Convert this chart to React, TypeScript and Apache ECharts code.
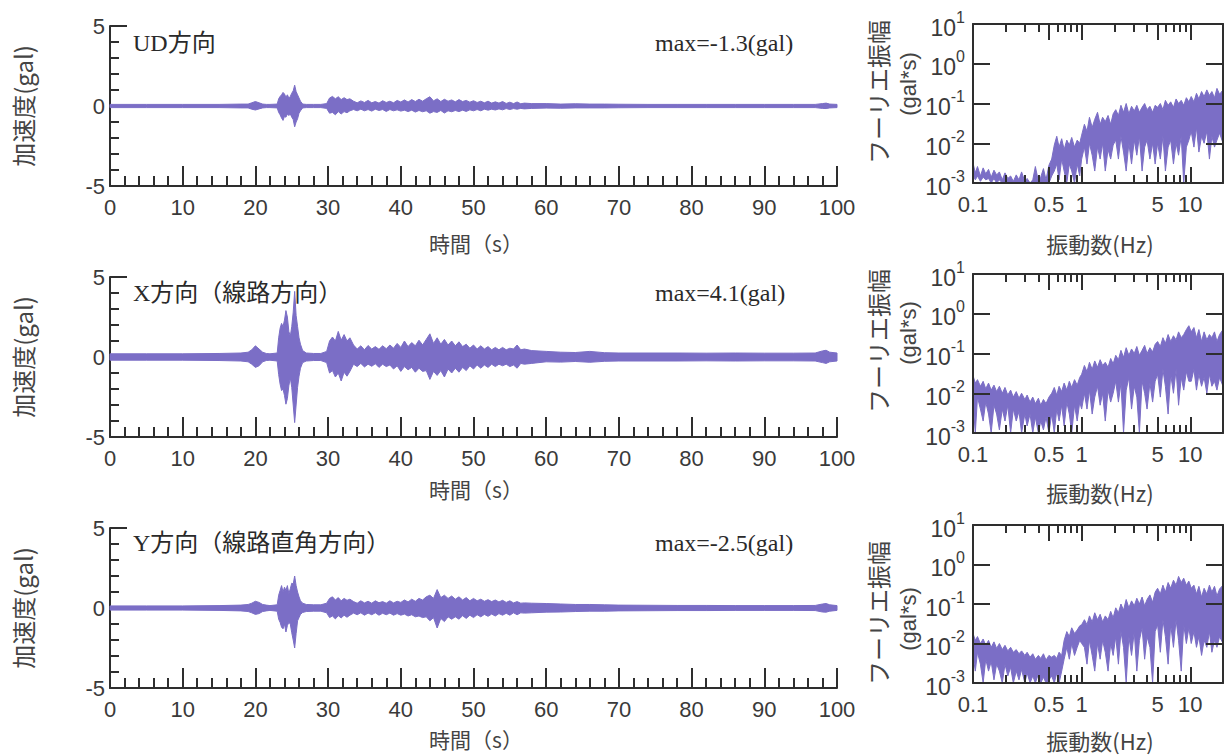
import React, { useEffect, useRef } from 'react';
import * as echarts from 'echarts';

// ---------- time-history data (envelope of acceleration, gal) ----------
const TIME = [
  0, 5, 10, 15, 18, 19, 19.5, 20, 20.5, 21,
  21.5, 22, 23, 23.2, 23.4, 23.6, 23.8, 24.0, 24.2, 24.4,
  24.6, 24.8, 25.0, 25.2, 25.4, 25.6, 25.8, 26.0, 26.2, 26.5,
  27, 28, 29, 29.8, 30.2, 30.6, 31.0, 31.4, 31.8, 32.2,
  32.6, 33.0,
  33.5, 34, 34.5, 35, 35.5, 36, 36.5, 37, 37.5, 38,
  38.5, 39, 39.5, 40, 40.5, 41, 41.5, 42, 42.5, 43,
  43.5, 44, 44.5, 45, 45.5, 46, 46.5, 47, 47.5, 48,
  48.5, 49, 49.5, 50, 50.5, 51, 51.5, 52, 52.5, 53,
  53.5, 54, 54.5, 55, 55.5, 56, 56.5, 57,
  58, 60, 62, 64, 66, 68, 70, 74, 78, 82,
  86, 90, 94, 97, 98, 98.5, 99, 100,
];

const UD_UP = [
  0.1, 0.1, 0.1, 0.1, 0.12, 0.12, 0.2, 0.28, 0.2, 0.12,
  0.1, 0.1, 0.12, 0.45, 0.6, 0.7, 0.85, 0.75, 0.55, 0.7,
  0.5, 0.6, 0.8, 0.95, 1.3, 0.9, 0.7, 0.5, 0.3, 0.12,
  0.1, 0.1, 0.1, 0.15, 0.5, 0.6, 0.45, 0.58, 0.4, 0.52,
  0.4, 0.45,
  0.3, 0.2, 0.32, 0.22, 0.35, 0.2, 0.28, 0.18, 0.33, 0.22,
  0.3, 0.2, 0.35, 0.25, 0.38, 0.25, 0.4, 0.28, 0.42, 0.3,
  0.45, 0.58, 0.32, 0.45, 0.28, 0.42, 0.3, 0.38, 0.26, 0.4,
  0.28, 0.35, 0.24, 0.33, 0.22, 0.3, 0.2, 0.3, 0.18, 0.26,
  0.18, 0.28, 0.16, 0.24, 0.15, 0.25, 0.14, 0.18,
  0.15, 0.15, 0.12, 0.14, 0.12, 0.12, 0.11, 0.1, 0.1, 0.1,
  0.1, 0.1, 0.1, 0.1, 0.15, 0.18, 0.12, 0.1,
];
const UD_LO = [
  -0.1, -0.1, -0.1, -0.1, -0.12, -0.12, -0.2, -0.25, -0.18, -0.12,
  -0.1, -0.1, -0.12, -0.4, -0.55, -0.75, -0.9, -0.65, -0.7, -0.5,
  -0.6, -0.5, -0.7, -0.85, -1.3, -1.0, -0.8, -0.45, -0.3, -0.12,
  -0.1, -0.1, -0.1, -0.15, -0.45, -0.4, -0.55, -0.35, -0.5, -0.35,
  -0.42, -0.3,
  -0.22, -0.3, -0.2, -0.3, -0.22, -0.32, -0.2, -0.28, -0.22, -0.34,
  -0.22, -0.3, -0.24, -0.32, -0.26, -0.35, -0.26, -0.38, -0.28, -0.36,
  -0.3, -0.45, -0.35, -0.4, -0.28, -0.44, -0.3, -0.36, -0.28, -0.35,
  -0.26, -0.34, -0.24, -0.3, -0.22, -0.3, -0.2, -0.26, -0.2, -0.25,
  -0.18, -0.24, -0.16, -0.22, -0.16, -0.2, -0.15, -0.18,
  -0.15, -0.13, -0.14, -0.12, -0.12, -0.12, -0.11, -0.1, -0.1, -0.1,
  -0.1, -0.1, -0.1, -0.1, -0.15, -0.16, -0.12, -0.1,
];

const X_UP = [
  0.2, 0.2, 0.2, 0.22, 0.25, 0.3, 0.45, 0.7, 0.5, 0.3,
  0.22, 0.2, 0.25, 1.2, 1.8, 2.1, 1.9, 2.3, 2.9, 2.5,
  1.6, 1.3, 1.9, 2.8, 4.1, 2.6, 1.9, 1.2, 0.8, 0.4,
  0.25, 0.22, 0.22, 0.35, 1.0, 1.25, 1.0, 1.6, 1.05, 1.4,
  1.0, 1.2,
  0.75, 0.5, 0.7, 0.45, 0.72, 0.5, 0.65, 0.48, 0.7, 0.52,
  0.75, 0.55, 0.85, 0.6, 1.0, 0.65, 0.9, 0.7, 1.05, 0.75,
  1.1, 1.45, 0.85, 1.2, 0.8, 1.1, 0.75, 1.0, 0.7, 0.95,
  0.65, 0.8, 0.55, 0.75, 0.5, 0.7, 0.5, 0.65, 0.45, 0.6,
  0.45, 0.6, 0.45, 0.55, 0.5, 0.75, 0.45, 0.5,
  0.4, 0.35, 0.3, 0.28, 0.35, 0.27, 0.25, 0.25, 0.25, 0.24,
  0.25, 0.24, 0.24, 0.25, 0.38, 0.42, 0.3, 0.25,
];
const X_LO = [
  -0.2, -0.2, -0.2, -0.22, -0.25, -0.3, -0.45, -0.65, -0.55, -0.3,
  -0.22, -0.2, -0.25, -1.1, -1.7, -2.1, -2.0, -2.4, -2.95, -2.6,
  -1.8, -1.3, -1.9, -3.0, -4.1, -3.0, -1.9, -1.2, -0.7, -0.35,
  -0.25, -0.22, -0.22, -0.35, -1.0, -0.85, -1.25, -1.0, -1.5, -0.95,
  -1.2, -0.9,
  -0.45, -0.6, -0.4, -0.62, -0.45, -0.58, -0.42, -0.65, -0.45, -0.6,
  -0.5, -0.75, -0.55, -0.9, -0.6, -0.8, -0.65, -0.95, -0.7, -0.9,
  -0.85, -1.4, -0.9, -1.15, -0.85, -1.25, -0.75, -1.0, -0.7, -0.95,
  -0.65, -0.85, -0.55, -0.75, -0.5, -0.7, -0.5, -0.65, -0.45, -0.6,
  -0.45, -0.55, -0.45, -0.6, -0.5, -0.7, -0.4, -0.45,
  -0.4, -0.3, -0.32, -0.28, -0.33, -0.27, -0.25, -0.25, -0.25, -0.24,
  -0.25, -0.24, -0.24, -0.25, -0.35, -0.4, -0.3, -0.25,
];

const Y_UP = [
  0.13, 0.13, 0.13, 0.15, 0.18, 0.22, 0.3, 0.42, 0.35, 0.22,
  0.18, 0.15, 0.2, 0.8, 1.1, 1.4, 1.0, 1.3, 1.1, 1.4,
  0.9, 1.2, 1.55, 1.5, 2.0, 1.4, 1.0, 0.7, 0.45, 0.3,
  0.22, 0.2, 0.2, 0.3, 0.6, 0.7, 0.5, 0.65, 0.45, 0.6,
  0.48, 0.55,
  0.4, 0.3, 0.45, 0.32, 0.42, 0.3, 0.45, 0.33, 0.4, 0.3,
  0.45, 0.32, 0.42, 0.35, 0.5, 0.38, 0.55, 0.42, 0.6, 0.5,
  0.7, 0.8, 0.6, 1.15, 0.65, 0.8, 0.6, 0.75, 0.55, 0.7,
  0.5, 0.65, 0.45, 0.6, 0.45, 0.55, 0.42, 0.52, 0.4, 0.5,
  0.38, 0.48, 0.35, 0.45, 0.32, 0.4, 0.3, 0.32,
  0.3, 0.28, 0.25, 0.22, 0.22, 0.2, 0.18, 0.17, 0.16, 0.16,
  0.15, 0.15, 0.15, 0.16, 0.25, 0.28, 0.2, 0.15,
];
const Y_LO = [
  -0.13, -0.13, -0.13, -0.15, -0.18, -0.22, -0.3, -0.4, -0.35, -0.22,
  -0.18, -0.15, -0.2, -0.7, -0.9, -1.2, -1.3, -1.0, -1.5, -1.1,
  -0.9, -1.0, -1.55, -2.0, -2.5, -1.6, -0.8, -0.6, -0.4, -0.28,
  -0.22, -0.2, -0.2, -0.3, -0.6, -0.5, -0.68, -0.48, -0.62, -0.45,
  -0.58, -0.45,
  -0.32, -0.42, -0.3, -0.45, -0.32, -0.42, -0.3, -0.45, -0.33, -0.42,
  -0.32, -0.45, -0.35, -0.45, -0.38, -0.5, -0.42, -0.55, -0.5, -0.6,
  -0.55, -0.8, -0.6, -1.25, -0.65, -0.85, -0.55, -0.7, -0.55, -0.7,
  -0.48, -0.65, -0.45, -0.6, -0.42, -0.55, -0.4, -0.52, -0.38, -0.5,
  -0.35, -0.45, -0.33, -0.45, -0.3, -0.42, -0.3, -0.32,
  -0.3, -0.26, -0.25, -0.22, -0.2, -0.2, -0.18, -0.17, -0.16, -0.16,
  -0.15, -0.15, -0.15, -0.16, -0.25, -0.26, -0.2, -0.15,
];

// ---------- Fourier spectra (gal*s) ----------
const FREQ = [
  0.1, 0.105, 0.11, 0.117, 0.124, 0.131, 0.139, 0.147, 0.156, 0.165,
  0.175, 0.186, 0.197, 0.209, 0.222, 0.235, 0.25, 0.265, 0.28, 0.3,
  0.315, 0.335, 0.355, 0.375, 0.4, 0.42, 0.445, 0.47, 0.5,
  0.53, 0.56, 0.59, 0.62, 0.655, 0.69, 0.73, 0.77, 0.81, 0.86, 0.91, 0.96, 1.0,
  1.06, 1.12, 1.18, 1.25, 1.32, 1.4, 1.48, 1.56, 1.65, 1.75, 1.85, 1.95,
  2.06, 2.18, 2.3, 2.43, 2.57, 2.72, 2.88, 3.05, 3.22, 3.4, 3.6, 3.8, 4.0, 4.25, 4.5, 4.75,
  5.0, 5.3, 5.6, 5.9, 6.25, 6.6, 7.0, 7.4, 7.8, 8.25, 8.7, 9.2, 9.7,
  10.2, 10.8, 11.4, 12.0, 12.7, 13.4, 14.2, 15.0, 15.8, 16.7, 17.6, 18.6, 20,
];

const SUD_UP = [
  0.0032, 0.0018, 0.0026, 0.0015, 0.0024, 0.0017, 0.0022, 0.0014, 0.0021, 0.0016,
  0.0019, 0.0012, 0.0018, 0.0013, 0.0015, 0.0011, 0.0016, 0.0012, 0.0019, 0.0011,
  0.0013, 0.001, 0.0012, 0.0026, 0.0011, 0.0014, 0.0023, 0.0012, 0.0028,
  0.004, 0.009, 0.015, 0.008, 0.013, 0.007, 0.012, 0.009, 0.014, 0.008, 0.012, 0.01, 0.016,
  0.03, 0.02, 0.045, 0.025, 0.04, 0.06, 0.03, 0.045, 0.035, 0.05, 0.03, 0.055,
  0.07, 0.05, 0.09, 0.06, 0.1, 0.055, 0.085, 0.065, 0.09, 0.06, 0.08, 0.1, 0.07, 0.085, 0.06, 0.09,
  0.08, 0.1, 0.07, 0.12, 0.09, 0.11, 0.08, 0.13, 0.1, 0.12, 0.09, 0.14, 0.11,
  0.15, 0.11, 0.18, 0.13, 0.2, 0.15, 0.22, 0.16, 0.2, 0.14, 0.24, 0.17, 0.22,
];
const SUD_LO = [
  0.0016, 0.0012, 0.0015, 0.0011, 0.0014, 0.0012, 0.0013, 0.001, 0.0013, 0.001,
  0.0012, 0.001, 0.001, 0.001, 0.001, 0.001, 0.001, 0.001, 0.001, 0.001,
  0.001, 0.001, 0.001, 0.001, 0.001, 0.001, 0.001, 0.001, 0.001,
  0.0015, 0.002, 0.003, 0.0012, 0.004, 0.002, 0.001, 0.003, 0.002, 0.001, 0.003, 0.0015, 0.004,
  0.008, 0.003, 0.01, 0.005, 0.002, 0.008, 0.004, 0.01, 0.002, 0.007, 0.004, 0.009,
  0.012, 0.004, 0.015, 0.006, 0.002, 0.01, 0.003, 0.012, 0.005, 0.015, 0.002, 0.008, 0.012, 0.004, 0.01, 0.003,
  0.01, 0.004, 0.015, 0.002, 0.008, 0.012, 0.003, 0.01, 0.005, 0.015, 0.001, 0.008, 0.012,
  0.02, 0.008, 0.025, 0.006, 0.015, 0.01, 0.02, 0.004, 0.015, 0.008, 0.012, 0.018, 0.01,
];

const SX_UP = [
  0.028, 0.018, 0.022, 0.015, 0.02, 0.013, 0.018, 0.012, 0.016, 0.011,
  0.015, 0.01, 0.014, 0.009, 0.012, 0.008, 0.011, 0.0075, 0.01, 0.007,
  0.009, 0.006, 0.008, 0.0055, 0.0075, 0.005, 0.007, 0.0055, 0.008,
  0.01, 0.014, 0.009, 0.015, 0.011, 0.018, 0.012, 0.02, 0.014, 0.022, 0.016, 0.025, 0.03,
  0.05, 0.035, 0.06, 0.04, 0.065, 0.045, 0.07, 0.05, 0.06, 0.045, 0.075, 0.055,
  0.09, 0.07, 0.12, 0.08, 0.14, 0.09, 0.13, 0.1, 0.15, 0.09, 0.12, 0.16, 0.1, 0.14, 0.11, 0.17,
  0.2, 0.15, 0.25, 0.18, 0.3, 0.2, 0.28, 0.22, 0.35, 0.25, 0.3, 0.4, 0.5,
  0.35, 0.45, 0.25, 0.4, 0.2, 0.35, 0.22, 0.3, 0.25, 0.35, 0.2, 0.3, 0.4,
];
const SX_LO = [
  0.006, 0.001, 0.008, 0.004, 0.002, 0.006, 0.003, 0.001, 0.005, 0.003,
  0.0012, 0.004, 0.002, 0.005, 0.001, 0.004, 0.002, 0.0035, 0.001, 0.003,
  0.0015, 0.003, 0.001, 0.0025, 0.001, 0.002, 0.0012, 0.0025, 0.001,
  0.003, 0.001, 0.004, 0.002, 0.005, 0.0015, 0.006, 0.003, 0.001, 0.005, 0.002, 0.006, 0.004,
  0.01, 0.004, 0.012, 0.003, 0.008, 0.015, 0.005, 0.01, 0.002, 0.012, 0.006, 0.01,
  0.02, 0.006, 0.018, 0.001, 0.012, 0.025, 0.004, 0.015, 0.008, 0.001, 0.02, 0.01, 0.004, 0.018, 0.006, 0.02,
  0.03, 0.008, 0.04, 0.015, 0.003, 0.03, 0.01, 0.04, 0.005, 0.025, 0.012, 0.035, 0.02,
  0.02, 0.04, 0.012, 0.03, 0.015, 0.025, 0.01, 0.03, 0.015, 0.02, 0.012, 0.025, 0.015,
];

const SY_UP = [
  0.018, 0.012, 0.015, 0.01, 0.013, 0.009, 0.012, 0.008, 0.011, 0.0075,
  0.01, 0.007, 0.009, 0.0065, 0.008, 0.006, 0.007, 0.0055, 0.0065, 0.005,
  0.006, 0.0045, 0.0055, 0.004, 0.005, 0.0042, 0.0055, 0.0038, 0.005,
  0.0045, 0.005, 0.0042, 0.006, 0.005, 0.012, 0.02, 0.015, 0.025, 0.018, 0.022, 0.028, 0.03,
  0.04, 0.03, 0.05, 0.035, 0.06, 0.04, 0.055, 0.035, 0.05, 0.04, 0.065, 0.045,
  0.08, 0.06, 0.1, 0.07, 0.13, 0.08, 0.12, 0.09, 0.14, 0.1, 0.15, 0.09, 0.13, 0.17, 0.11, 0.2,
  0.25, 0.18, 0.3, 0.2, 0.35, 0.25, 0.4, 0.3, 0.5, 0.35, 0.45, 0.3, 0.38,
  0.25, 0.3, 0.18, 0.28, 0.15, 0.25, 0.18, 0.3, 0.2, 0.28, 0.16, 0.24, 0.3,
];
const SY_LO = [
  0.005, 0.002, 0.006, 0.003, 0.001, 0.004, 0.002, 0.0035, 0.0012, 0.003,
  0.002, 0.001, 0.003, 0.0015, 0.0025, 0.001, 0.002, 0.0012, 0.0022, 0.001,
  0.0018, 0.001, 0.0015, 0.001, 0.0017, 0.001, 0.0014, 0.001, 0.0012,
  0.0015, 0.001, 0.0018, 0.001, 0.002, 0.004, 0.008, 0.004, 0.01, 0.005, 0.008, 0.012, 0.01,
  0.008, 0.003, 0.012, 0.005, 0.002, 0.01, 0.004, 0.012, 0.006, 0.002, 0.01, 0.005,
  0.015, 0.003, 0.02, 0.008, 0.001, 0.015, 0.005, 0.02, 0.002, 0.012, 0.025, 0.004, 0.015, 0.008, 0.001, 0.02,
  0.03, 0.006, 0.04, 0.015, 0.003, 0.03, 0.008, 0.04, 0.012, 0.002, 0.03, 0.01, 0.025,
  0.01, 0.02, 0.008, 0.015, 0.005, 0.012, 0.008, 0.02, 0.006, 0.012, 0.008, 0.015, 0.01,
];

// ---------- texts / ticks ----------
const TITLES = ['UD方向', 'X方向（線路方向）', 'Y方向（線路直角方向）'];
const MAX_TEXTS = ['max=-1.3(gal)', 'max=4.1(gal)', 'max=-2.5(gal)'];
const F_LABELS = [0.1, 0.5, 1, 5, 10];
const F_MAJOR_TICKS = [0.5, 1, 5, 10];
const F_MINOR_TICKS = [0.2, 0.3, 0.4, 0.6, 0.7, 0.8, 0.9, 2, 3, 4, 6, 7, 8, 9];

const WAVES = [
  { up: UD_UP, lo: UD_LO },
  { up: X_UP, lo: X_LO },
  { up: Y_UP, lo: Y_LO },
];
const SPECS = [
  { up: SUD_UP, lo: SUD_LO },
  { up: SX_UP, lo: SX_LO },
  { up: SY_UP, lo: SY_LO },
];

const COLOR = '#7b6ec6';
const AXIS = '#2e2e2e';
const LABEL = '#3a3a3a';
const SANS = "'Liberation Sans', Arial, 'Noto Sans CJK JP', sans-serif";
const CJK = "'Noto Sans CJK JP', 'Liberation Sans', sans-serif";
const SERIF = "'Liberation Serif', 'Times New Roman', 'Noto Sans CJK JP', serif";

// layout
const T_TOP = [26, 277, 528];
const T_LEFT = 110;
const T_W = 727;
const T_H = 160;
const S_TOP = [24, 274, 525];
const S_H = [159, 159, 158];
const S_LEFT = 973;
const S_W = 250;

function band(xs: number[], up: number[], lo: number[], xAxisIndex: number, yAxisIndex: number) {
  const data = xs.map((x, i) => [x, up[i], lo[i]]);
  return {
    type: 'custom',
    xAxisIndex,
    yAxisIndex,
    z: 2,
    silent: true,
    data,
    encode: { x: 0, y: [1, 2] },
    renderItem: (params: any, api: any) => {
      if (params.dataIndex !== 0) return null;
      const pts: number[][] = [];
      for (let i = 0; i < data.length; i++) pts.push(api.coord([data[i][0], data[i][1]]));
      for (let i = data.length - 1; i >= 0; i--) pts.push(api.coord([data[i][0], data[i][2]]));
      return {
        type: 'polygon',
        shape: { points: pts },
        style: { fill: COLOR, stroke: COLOR, lineWidth: 1 },
      };
    },
  };
}

export default function App() {
  const ref = useRef<HTMLDivElement>(null);
  useEffect(() => {
    document.body.style.margin = '0';
    const chart = echarts.init(ref.current!, null, { renderer: 'svg' });

    const grid: any[] = [];
    const xAxis: any[] = [];
    const yAxis: any[] = [];
    const series: any[] = [];
    const graphic: any[] = [];

    const lineStyle = { color: AXIS, width: 2 };
    const tickStyle = { color: AXIS, width: 2 };

    for (let r = 0; r < 3; r++) {
      // ---- time history grid ----
      const gT = grid.length;
      grid.push({ left: T_LEFT, top: T_TOP[r], width: T_W, height: T_H, containLabel: false, outerBoundsMode: 'none' });
      const xT = xAxis.length;
      xAxis.push({
        type: 'value', gridIndex: gT, min: 0, max: 100, interval: 10, position: 'bottom',
        axisLine: { show: true, onZero: false, lineStyle },
        axisTick: { show: true, inside: true, length: 20, lineStyle: tickStyle },
        minorTick: { show: true, splitNumber: 5, length: 10, lineStyle: tickStyle },
        axisLabel: { show: true, fontSize: 22, fontFamily: SANS, color: LABEL, margin: 10 },
        splitLine: { show: false }, minorSplitLine: { show: false },
      });
      const yT = yAxis.length;
      yAxis.push({
        type: 'value', gridIndex: gT, min: -5, max: 5, interval: 5, position: 'left',
        axisLine: { show: true, onZero: false, lineStyle },
        axisTick: { show: true, inside: true, length: 17, lineStyle: tickStyle },
        minorTick: { show: true, splitNumber: 5, length: 9, lineStyle: tickStyle },
        axisLabel: { show: true, fontSize: 22, fontFamily: SANS, color: LABEL, margin: 5 },
        splitLine: { show: false }, minorSplitLine: { show: false },
      });
      series.push(band(TIME, WAVES[r].up, WAVES[r].lo, xT, yT));

      // ---- spectrum grid (major ticks + labels) ----
      const gS = grid.length;
      grid.push({ left: S_LEFT, top: S_TOP[r], width: S_W, height: S_H[r], containLabel: false, outerBoundsMode: 'none' });
      const xS = xAxis.length;
      xAxis.push({
        type: 'log', logBase: 10, gridIndex: gS, min: 0.1, max: 20, position: 'bottom', z: 5,
        axisLine: { show: true, onZero: false, lineStyle },
        axisTick: { show: true, inside: true, length: 16, lineStyle: tickStyle, customValues: F_MAJOR_TICKS },
        axisLabel: {
          show: true, fontSize: 22, fontFamily: SANS, color: LABEL, margin: 10,
          customValues: F_LABELS, formatter: (v: number) => String(v),
        },
        splitLine: { show: false },
      });
      xAxis.push({
        type: 'log', logBase: 10, gridIndex: gS, min: 0.1, max: 20, position: 'top', z: 5,
        axisLine: { show: true, onZero: false, lineStyle },
        axisTick: { show: true, inside: true, length: 16, lineStyle: tickStyle, customValues: F_MAJOR_TICKS },
        axisLabel: { show: false },
        splitLine: { show: false },
      });
      const yS = yAxis.length;
      yAxis.push({
        type: 'log', logBase: 10, gridIndex: gS, min: 0.001, max: 10, position: 'left', z: 5,
        axisLine: { show: true, onZero: false, lineStyle },
        axisTick: { show: true, inside: true, length: 17, lineStyle: tickStyle },
        axisLabel: {
          show: true, margin: 8,
          formatter: (v: number) => `{b|10}{s|${Math.round(Math.log10(v))}}`,
          rich: {
            b: { fontSize: 23, fontFamily: SANS, color: LABEL, verticalAlign: 'bottom', lineHeight: 30 },
            s: { fontSize: 16, fontFamily: SANS, color: LABEL, verticalAlign: 'top', lineHeight: 15 },
          },
        },
        splitLine: { show: false },
      });
      yAxis.push({
        type: 'log', logBase: 10, gridIndex: gS, min: 0.001, max: 10, position: 'right', z: 5,
        axisLine: { show: true, onZero: false, lineStyle },
        axisTick: { show: true, inside: true, length: 17, lineStyle: tickStyle },
        axisLabel: { show: false },
        splitLine: { show: false },
      });
      series.push(band(FREQ, SPECS[r].up, SPECS[r].lo, xS, yS));

      // ---- spectrum grid (minor ticks only) ----
      const gM = grid.length;
      grid.push({ left: S_LEFT, top: S_TOP[r], width: S_W, height: S_H[r], containLabel: false, outerBoundsMode: 'none' });
      xAxis.push({
        type: 'log', logBase: 10, gridIndex: gM, min: 0.1, max: 20, position: 'bottom', z: 5,
        axisLine: { show: false, onZero: false },
        axisTick: { show: true, inside: true, length: 8, lineStyle: tickStyle, customValues: F_MINOR_TICKS },
        axisLabel: { show: false },
        splitLine: { show: false },
      });
      xAxis.push({
        type: 'log', logBase: 10, gridIndex: gM, min: 0.1, max: 20, position: 'top', z: 5,
        axisLine: { show: false, onZero: false },
        axisTick: { show: true, inside: true, length: 8, lineStyle: tickStyle, customValues: F_MINOR_TICKS },
        axisLabel: { show: false },
        splitLine: { show: false },
      });
      yAxis.push({
        type: 'log', logBase: 10, gridIndex: gM, min: 0.001, max: 10, show: false,
      });

      // ---- texts ----
      const yMid = [106, 357, 608][r];
      graphic.push({
        type: 'text', x: 22, y: yMid, rotation: Math.PI / 2,
        style: { text: '加速度(gal)', fill: '#444', font: `24px ${CJK}`, textAlign: 'center', textVerticalAlign: 'middle' },
      });
      const tY = [43, 293, 543][r];
      graphic.push({
        type: 'text', x: 133, y: tY,
        style: { text: TITLES[r], fill: '#2a2a2a', font: `24px ${SERIF}`, textAlign: 'left', textVerticalAlign: 'middle' },
      });
      graphic.push({
        type: 'text', x: 655, y: tY,
        style: { text: MAX_TEXTS[r], fill: '#2a2a2a', font: `24px ${SERIF}`, textAlign: 'left', textVerticalAlign: 'middle' },
      });
      graphic.push({
        type: 'text', x: 476, y: [243, 489, 739][r],
        style: { text: '時間（s）', fill: '#444', font: `21px ${CJK}`, textAlign: 'center', textVerticalAlign: 'middle' },
      });
      graphic.push({
        type: 'text', x: 877, y: [92, 341, 613][r], rotation: Math.PI / 2,
        style: { text: 'フーリエ振幅', fill: '#444', font: `24px ${CJK}`, textAlign: 'center', textVerticalAlign: 'middle' },
      });
      graphic.push({
        type: 'text', x: 908, y: [84, 333, 619][r], rotation: Math.PI / 2,
        style: { text: '(gal*s)', fill: '#444', font: `22px ${SANS}`, textAlign: 'center', textVerticalAlign: 'middle' },
      });
      graphic.push({
        type: 'text', x: 1100, y: [243, 492, 740][r],
        style: { text: '振動数(Hz)', fill: '#444', font: `22px ${CJK}`, textAlign: 'center', textVerticalAlign: 'middle' },
      });
    }

    chart.setOption({
      animation: false,
      backgroundColor: '#ffffff',
      grid,
      xAxis,
      yAxis,
      series,
      graphic: { elements: graphic },
    });
    return () => chart.dispose();
  }, []);
  return <div ref={ref} style={{ width: 1228, height: 756 }} />;
}
